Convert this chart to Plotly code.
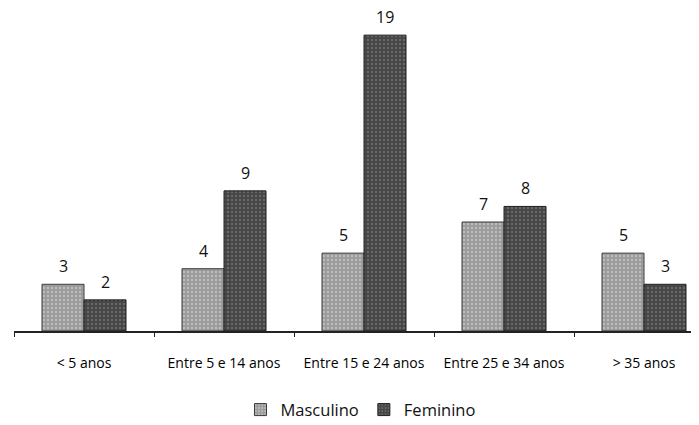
import plotly.graph_objects as go

categories = ["< 5 anos", "Entre 5 e 14 anos", "Entre 15 e 24 anos", "Entre 25 e 34 anos", "> 35 anos"]
masculino = [3, 4, 5, 7, 5]
feminino = [2, 9, 19, 8, 3]

fig = go.Figure()
fig.add_trace(go.Bar(
    name="Masculino", x=categories, y=masculino,
    marker=dict(color="#a3a3a3", line=dict(color="#3a3a3a", width=1),
                pattern=dict(shape=".", fgcolor="#e0e0e0", bgcolor="#9a9a9a", size=4, solidity=0.3)),
))
fig.add_trace(go.Bar(
    name="Feminino", x=categories, y=feminino,
    marker=dict(color="#4f4f4f", line=dict(color="#1e1e1e", width=1),
                pattern=dict(shape=".", fgcolor="#8a8a8a", bgcolor="#454545", size=4, solidity=0.3)),
))

# value labels above each bar
for series, shift in ((masculino, -21), (feminino, 21)):
    for cat, val in zip(categories, series):
        fig.add_annotation(x=cat, y=val, text=str(val), showarrow=False,
                           xshift=shift, yshift=18, yanchor="middle",
                           font=dict(size=16, color="#111"))

fig.update_layout(
    width=699, height=425,
    margin=dict(l=6, r=0, t=22, b=102),
    barmode="group", bargap=0.4, bargroupgap=0,
    plot_bgcolor="white", paper_bgcolor="white",
    font=dict(family="Open Sans, Liberation Sans, sans-serif", color="#111"),
    showlegend=True,
    legend=dict(orientation="h", x=0.5, xanchor="center", y=-0.262, yanchor="middle",
                font=dict(size=16.5), itemwidth=30, traceorder="normal"),
)
fig.update_xaxes(
    range=[-0.5, -0.5 + 693 / 140], showline=True, linecolor="#222", linewidth=1.5,
    ticks="outside", tickson="boundaries", ticklen=4, tickcolor="#222",
    tickfont=dict(size=14, color="#000"), showgrid=False, ticklabelstandoff=18,
)
fig.update_yaxes(range=[0, 19.33], visible=False, showgrid=False)

fig.write_html("out.html")
